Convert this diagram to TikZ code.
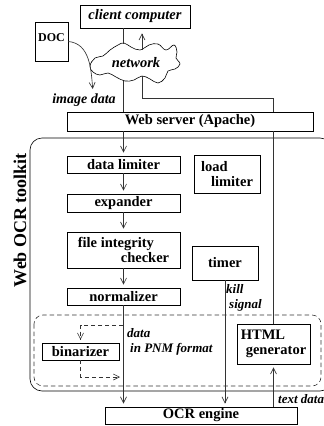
\documentclass[tikz,border=0pt]{standalone}
\usepackage{fontspec}
\setmainfont{Liberation Serif}
\usetikzlibrary{arrows.meta,calc}
\newcommand{\boxfont}{\bfseries\fontsize{14.5}{15}\selectfont}
\newcommand{\tagfont}{\bfseries\itshape\fontsize{13}{15}\selectfont}
\newcommand{\toolkitfont}{\bfseries\fontsize{18}{20}\selectfont}
\tikzset{
  unit/.style={draw=black,line width=.6pt,font=\boxfont,inner sep=2pt},
  wire/.style={draw=black!80,line width=.65pt},
  flow/.style={wire,shorten >=3pt,-{Straight Barb[length=6pt,width=6pt]}},
  dataflow/.style={flow,dash pattern=on 4pt off 3pt},
  frame/.style={draw=black,line width=.6pt,rounded corners=12pt},
  dashframe/.style={draw=black!80,line width=.6pt,rounded corners=9pt,
                    dash pattern=on 4.5pt off 3pt},
  tag/.style={font=\tagfont,inner sep=0pt}
}

\begin{document}
\begin{tikzpicture}[x=1pt,y=-1pt]
  \useasboundingbox (0,0) rectangle (324,426);
  \clip (0,0) rectangle (324,426);

  % ======================== OUTSIDE THE TOOLKIT ========================
  \node[unit,minimum width=110pt,minimum height=23pt,font=\boxfont\itshape]
    (client) at (135,16.5) {client computer};
  \node[unit,minimum width=33pt,minimum height=39pt,font=\bfseries\fontsize{12}{13}\selectfont,
        text depth=7pt] (doc) at (51.5,41.5) {DOC};

  % network cloud
  \draw[line width=.6pt] plot[smooth cycle,tension=.7] coordinates {
    (90,66) (95,58) (103,56) (110,50) (118,45) (124,43) (131,47) (140,50)
    (149,45) (158,44) (166,50) (174,45) (177,52) (176,58) (180,64) (175,69)
    (168,71) (165,78) (158,83) (150,79) (142,76) (134,80) (125,81) (116,77)
    (108,73) (100,75) (93,72)};
  \node[font=\boxfont\itshape,inner sep=0pt] (network) at (136,63) {network};
  \coordinate (cloudN) at (123,43.5);
  \coordinate (cloudS) at (123,80.5);
  \coordinate (cloudNE) at (142,49.5);
  \coordinate (cloudSE) at (142,76);

  \node[tag,font=\bfseries\itshape\fontsize{14}{15}\selectfont] (imgdata) at (84,100) {image data};
  \coordinate (docdrop) at (93,92);

  \node[unit,minimum width=246pt,minimum height=19pt] (web) at (190,121.5)
    {Web server (Apache)};
  \coordinate (turn) at (273.5,98);

  % ======================== WEB OCR TOOLKIT ========================
  \draw[frame] (30,138) rectangle (332,391);
  \node[font=\toolkitfont,rotate=90,inner sep=0pt] (toolkit) at (20,220) {Web OCR toolkit};
  \draw[dashframe] (34,315) rectangle (321,386);

  % processing chain
  \node[unit,minimum width=113pt,minimum height=17pt] (limiter) at (123.5,164.5)
    {data limiter};
  \node[unit,minimum width=113pt,minimum height=18pt] (expander) at (123.5,203)
    {expander};
  \node[unit,minimum width=113pt,minimum height=36pt,align=left] (integrity) at (123.5,250)
    {file integrity\\\hspace*{43pt}checker};
  \node[unit,minimum width=113pt,minimum height=17pt] (normalizer) at (123.5,296.5)
    {normalizer};
  \node[unit,minimum width=77pt,minimum height=17pt] (binarizer) at (80.5,351.5)
    {binarizer};

  % side units
  \node[unit,minimum width=66pt,minimum height=38pt,align=left] (load) at (227,174)
    {load\\\hspace*{10pt}limiter};
  \node[unit,minimum width=66pt,minimum height=34pt] (timer) at (225,263) {timer};
  \node[unit,minimum width=73pt,minimum height=40pt,align=left] (html) at (273.5,344)
    {HTML\\\hspace*{5pt}generator};

  \node[unit,minimum width=192pt,minimum height=17pt] (ocr) at (201,415.5) {OCR engine};

  % labels on connectors
  \node[tag,anchor=north west,align=left] (pnm) at (127,328)
    {data\\\hspace*{3pt}in PNM format};
  \node[tag,anchor=north west,align=left] (kill) at (226,284)
    {kill\\\hspace*{3pt}signal};
  \node[tag,anchor=west] (textdata) at (278,399) {text data};

  % ======================== CONNECTORS ========================
  \draw[wire] (client.south -| cloudN) -- (cloudN);
  \draw[wire] (cloudS) -- (cloudS |- web.north);
  \draw[flow,shorten >=5pt] (cloudNE) -- (cloudNE |- client.south);
  \draw[wire] (cloudSE) |- (turn) -- (turn |- web.north);
  \draw[flow] (doc.east) to[out=-5,in=95] (docdrop);

  \draw[flow] (web.south -| limiter) -- (limiter.north);
  \draw[flow] (limiter.south) -- (expander.north);
  \draw[flow] (expander.south) -- (integrity.north);
  \draw[flow] (integrity.south) -- (normalizer.north);
  \draw[flow] (normalizer.south) -- (normalizer.south |- ocr.north);

  \coordinate (tapin) at (123,325);
  \coordinate (tapout) at (123,377);
  \draw[dataflow] (tapin) -| (binarizer.north);
  \draw[dataflow] (binarizer.south) |- (tapout);

  \draw[flow] (timer.south) -- (timer.south |- ocr.north);
  \draw[wire] (html.north) -- (html.north |- web.south);
  \draw[flow] (html.south |- ocr.north) -- (html.south);
\end{tikzpicture}
\end{document}
